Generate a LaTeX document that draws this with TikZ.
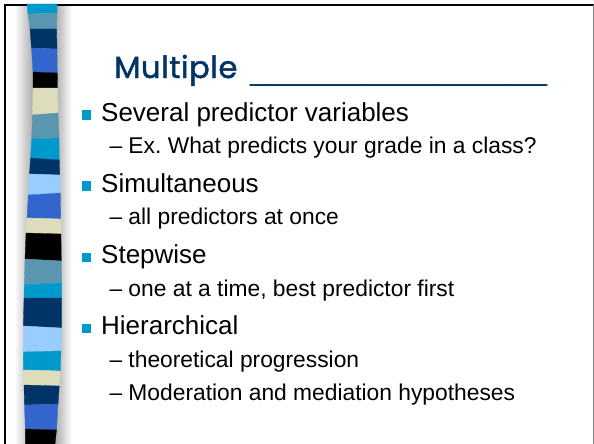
\documentclass[tikz,border=0pt]{standalone}
\usepackage{fontspec}
\usepackage{graphicx}
\newfontfamily\bodyfont{Liberation Sans}
\newfontfamily\titlefont[LetterSpace=2, FakeBold=1.6]{Poppins}
\definecolor{navy}{RGB}{0,51,102}
\definecolor{cyanblue}{RGB}{0,153,204}
\definecolor{steel}{RGB}{90,150,175}
\definecolor{royal}{RGB}{51,102,204}
\definecolor{beige}{RGB}{221,221,187}
\definecolor{lightblue}{RGB}{153,204,255}
\tikzset{
  titletext/.style={anchor=base west, inner sep=0, text=navy, font=\titlefont\fontsize{30.5}{30.5}\selectfont},
  blanktext/.style={anchor=base west, inner sep=0, text=navy, font=\bodyfont\fontsize{30}{30}\selectfont},
  maintext/.style={anchor=base west, inner sep=0, font=\bodyfont\fontsize{26}{26}\selectfont},
  subtext/.style={anchor=base west, inner sep=0, font=\bodyfont\fontsize{22.8}{22.8}\selectfont},
  bullet/.style={fill=cyanblue, minimum size=9.5pt, inner sep=0}
}
\begin{document}
\frenchspacing
\begin{tikzpicture}[x=1pt,y=-1pt]
  \useasboundingbox (0,0) rectangle (594,444);
  % frame and shadow of the stripe
  \shade[left color=white, right color=gray!65] (14,6) rectangle (33,444);
  \shade[left color=gray!65, right color=white] (55,6) rectangle (72,444);
  \draw[black, line width=2pt] (5,444) -- (5,5) -- (594,5);
  \draw[gray, line width=1pt] (593,5) -- (593,444);
  % stripe
  \foreach \y/\l/\r/\t [count=\i from 0] in {4/27/57/0, 14/28/57/-1, 29/30/56.5/0,
      48/31.5/57/1, 72/33/57.3/1, 88/33/57.5/0, 115/32.5/58/-2, 139/31.7/59/-1,
      158/30.5/59.3/2, 174/29.5/59.7/1, 195/28.3/60.3/-2, 218/27/60.7/1,
      233/26/61/1, 259/25/61.3/2, 285/24.3/61.7/-2, 298/24/61.7/0,
      326/23.3/61.7/2, 352/23.3/61/-1, 370/23.5/60.3/1, 385/24/59.3/1,
      405/24.5/58/-1, 429/25.3/56.5/1, 444/25.5/55/0}
    {\coordinate (l\i) at (\l,\y); \coordinate (r\i) at (\r,\y+\t);}
  \foreach \c [count=\i from 0] in {cyanblue, steel, navy, royal, black, beige,
      steel, cyanblue, navy, lightblue, royal, beige, black, steel, cyanblue,
      navy, lightblue, cyanblue, beige, navy, royal, black}
    {\pgfmathtruncatemacro\j{\i+1}
     \fill[\c, draw=\c, line width=0.3pt] (l\i) -- (r\i) -- (r\j) -- (l\j) -- cycle;}
  % title
  \node[titletext] (title) at (114,78) {Multiple};
  \node[blanktext] (blank) at (250,80.5) {\resizebox*{297pt}{\totalheight}{\_\_\_\_\_\_\_\_\_\_\_\_\_\_\_\_}};
  % bullets
  \begin{scope}[every node/.style={bullet}]
    \node (b1) at (86.5,115) {};
    \node (b2) at (86.5,186.2) {};
    \node (b3) at (86.5,257.4) {};
    \node (b4) at (86.5,328.6) {};
  \end{scope}
  \node[maintext] (several) at (101,121) {Several predictor variables};
  \node[subtext] (ex) at (109.3,153.7) {– Ex. What predicts your grade in a class?};
  \node[maintext] (simult) at (101,192.2) {Simultaneous};
  \node[subtext] (allpred) at (109.3,224.9) {– all predictors at once};
  \node[maintext] (stepwise) at (101,263.4) {Stepwise};
  \node[subtext] (oneatime) at (109.3,296.1) {– one at a time, best predictor first};
  \node[maintext] (hier) at (101,334.6) {Hierarchical};
  \node[subtext] (theory) at (109.3,367.3) {– theoretical progression};
  \node[subtext] (moderation) at (109.3,400) {– Moderation and mediation hypotheses};
\end{tikzpicture}
\end{document}
